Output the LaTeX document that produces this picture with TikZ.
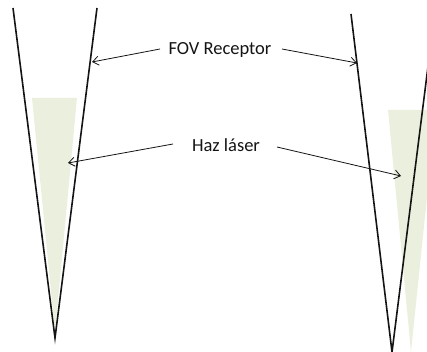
\documentclass[tikz,border=0pt]{standalone}
\usepackage{fontspec}
\setmainfont{Carlito}
\usetikzlibrary{arrows.meta}
\definecolor{laser}{RGB}{235,240,222}
\definecolor{ink}{RGB}{20,20,20}
\tikzset{
  fovline/.style={draw=ink, line width=1.6pt},
  beam/.style={fill=laser, draw=none},
  lbl/.style={font=\fontsize{18.5}{20}\selectfont, text=ink, inner sep=0pt},
  callout/.style={draw=ink, line width=0.8pt, -{Straight Barb[length=6pt,width=9pt,line width=0.8pt]}}
}
\begin{document}
\begin{tikzpicture}[x=1pt,y=-1pt]
\useasboundingbox (0,0) rectangle (427,352);
\clip (0,0) rectangle (427,352);
% left beam and FOV
\fill[beam] (32,98) -- (77,98) -- (55,332) -- cycle;
\coordinate (LA) at (13,8);
\coordinate (LB) at (97,8);
\coordinate (LV) at (55,338);
\draw[fovline] (LA) -- (LV) -- (LB);
% right beam and FOV
\fill[beam] (388,110) -- (436,110) -- (411,352) -- cycle;
\coordinate (RA) at (351,14);
\coordinate (RB) at (436,3);
\coordinate (RV) at (392,352);
\draw[fovline] (RA) -- (RV) -- (RB);
% labels
\node[lbl] (fov) at (220,50) {FOV Receptor};
\node[lbl] (haz) at (226,145) {Haz láser};
\coordinate (f1) at (160,49);
\coordinate (f2) at (282,49);
\coordinate (h1) at (173,144);
\coordinate (h2) at (277,147);
\coordinate (t1) at (92,62);
\coordinate (t2) at (357,63);
\coordinate (t3) at (68,163);
\coordinate (t4) at (401,176);
\draw[callout] (f1) -- (t1);
\draw[callout] (f2) -- (t2);
\draw[callout] (h1) -- (t3);
\draw[callout] (h2) -- (t4);
\end{tikzpicture}
\end{document}
